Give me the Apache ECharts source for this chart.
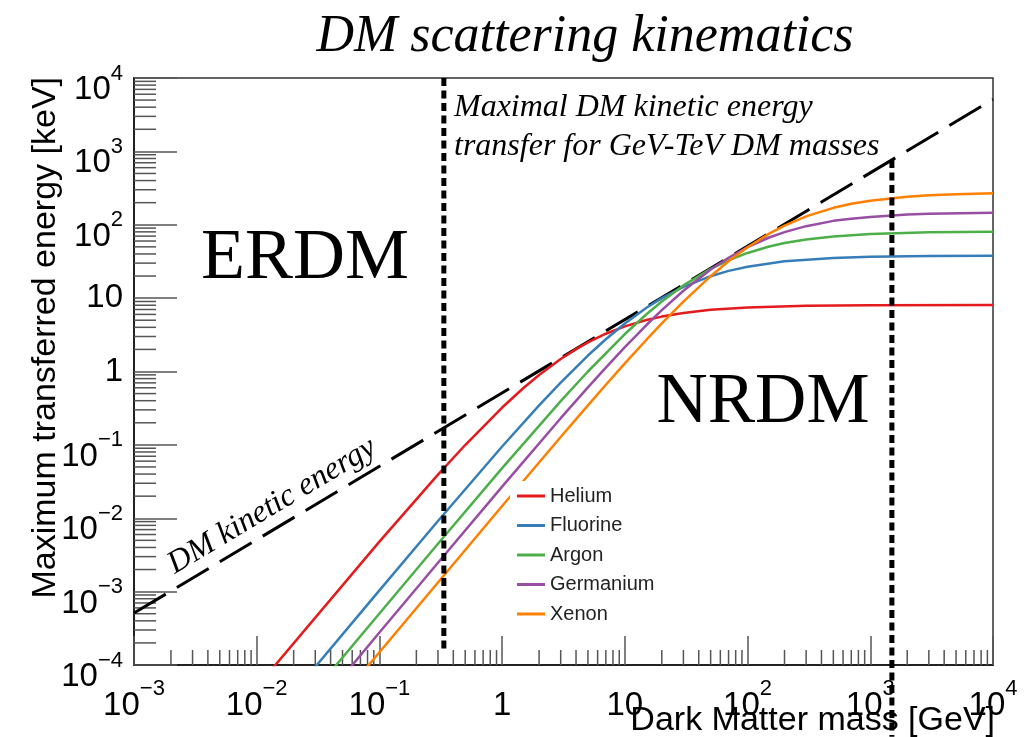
<!DOCTYPE html>
<html><head><meta charset="utf-8">
<script src="https://cdn.jsdelivr.net/npm/echarts@6/dist/echarts.min.js"></script>
<style>html,body{margin:0;padding:0;background:#fff}#c{width:1026px;height:737px}</style>
</head><body><div id="c"></div>
<script>
// ---------- data ----------
const X_MIN = 1e-3, X_MAX = 1e4;          // Dark Matter mass [GeV]
const Y_MIN = 1e-4, Y_MAX = 1e4;          // Maximum transferred energy [keV]
const X_DECADES = [-3, -2, -1, 0, 1, 2, 3];
const Y_DECADES = [-4, -3, -2, -1, 0, 1, 2, 3];
const MINOR_MULT = [2, 3, 4, 5, 6, 7, 8, 9];

const ELEMENTS = ['Helium', 'Fluorine', 'Argon', 'Germanium', 'Xenon'];
const COLORS = ['#e41a1c', '#377eb8', '#4daf4a', '#984ea3', '#ff7f00'];

const HE_MASS = [0.01, 0.1, 0.3, 0.5, 1, 1.5, 2, 3, 4, 5, 7, 10, 15, 20, 30, 50, 100, 300, 1000, 10000];
const HE_E    = [5.0e-5, 4.8e-3, 0.0393, 0.0996, 0.323, 0.600, 0.897, 1.48, 2.02, 2.49, 3.27, 4.12, 5.03, 5.60, 6.28, 6.92, 7.46, 7.86, 8.01, 8.06];

const F_MASS  = [0.02, 0.1, 0.3, 1, 2, 3, 5, 7, 10, 15, 20, 30, 50, 70, 100, 200, 500, 1000, 3000, 10000];
const F_E     = [4.2e-5, 1.04e-3, 9.18e-3, 0.095, 0.345, 0.707, 1.65, 2.75, 4.52, 7.40, 9.99, 14.2, 19.9, 23.5, 26.8, 31.7, 35.3, 36.6, 37.5, 37.9];

const AR_MASS = [0.03, 0.1, 0.3, 1, 3, 5, 10, 15, 20, 30, 50, 70, 100, 150, 200, 300, 500, 1000, 3000, 10000];
const AR_E    = [4.55e-5, 5.04e-4, 4.49e-3, 0.0482, 0.394, 1.00, 3.24, 6.03, 9.00, 14.9, 25.0, 32.8, 41.3, 50.5, 56.3, 63.1, 69.4, 74.9, 78.9, 80.4];

const GE_MASS = [0.05, 0.1, 0.3, 1, 3, 5, 7, 10, 15, 20, 30, 50, 70, 100, 150, 200, 300, 500, 700, 1000, 2000, 3000, 10000];
const GE_E    = [6.9e-5, 2.77e-4, 2.48e-3, 0.0270, 0.231, 0.608, 1.13, 2.15, 4.30, 6.85, 12.6, 24.5, 35.5, 49.5, 67.0, 79.4, 95.7, 113, 121, 128, 138, 141, 146];

const XE_MASS = [0.07, 0.1, 0.3, 1, 3, 5, 7, 10, 15, 20, 30, 50, 70, 100, 150, 200, 300, 500, 700, 1000, 2000, 3000, 5000, 10000];
const XE_E    = [7.3e-5, 1.49e-4, 1.33e-3, 0.0147, 0.128, 0.346, 0.659, 1.29, 2.71, 4.52, 8.98, 19.9, 31.8, 49.4, 75.7, 97.4, 130, 170, 193, 213, 241, 252, 261, 268];

const DMKE_MASS = [1e-3, 1e4];            // DM kinetic energy (dashed)
const DMKE_E    = [5.1e-4, 5100];

const CUT_LOW_MASS  = [0.335, 0.335];     // dotted verticals
const CUT_LOW_E     = [1e4, 1.5e-4];
const CUT_HIGH_MASS = [1500, 1500];
const CUT_HIGH_E    = [765, 1.05e-5];

// ---------- chart ----------
const zip = (a, b) => a.map((v, i) => [v, b[i]]);
const CURVES = [[HE_MASS, HE_E], [F_MASS, F_E], [AR_MASS, AR_E], [GE_MASS, GE_E], [XE_MASS, XE_E]];

const xMinor = [], yMinor = [];
X_DECADES.forEach(d => MINOR_MULT.forEach(m => xMinor.push([m * Math.pow(10, d), Y_MIN])));
Y_DECADES.forEach(d => MINOR_MULT.forEach(m => yMinor.push([X_MIN, m * Math.pow(10, d)])));

function tickRenderer(dir, len) {
  return function (params, api) {
    const p = api.coord([api.value(0), api.value(1)]);
    const shape = dir === 'x'
      ? { x1: p[0], y1: p[1], x2: p[0], y2: p[1] - len }
      : { x1: p[0], y1: p[1], x2: p[0] + len, y2: p[1] };
    return { type: 'line', shape: shape, style: { stroke: '#555', lineWidth: 1.5 } };
  };
}

function expOf(v) { return Math.round(Math.log10(v)); }
function supText(e) { return e < 0 ? '\u2212' + (-e) : String(e); }
function xLabel(v) {
  const e = expOf(v);
  if (e === 0) return '{b|1}';
  if (e === 1) return '{b|10}';
  return '{b|10}{s|' + supText(e) + '}';
}
function yPowLabel(v) {            // 10^n labels (n != 0, 1)
  const e = expOf(v);
  if (e === 0 || e === 1) return '';
  return '{b|10}{s|' + supText(e) + '}';
}
function yPlainLabel(v) {          // "1" and "10"
  const e = expOf(v);
  if (e === 0) return '1';
  if (e === 1) return '10';
  return '';
}
const RICH = {
  b: { fontFamily: 'Liberation Sans', fontSize: 33, lineHeight: 44, color: '#000', verticalAlign: 'bottom' },
  s: { fontFamily: 'Liberation Sans', fontSize: 22, lineHeight: 22, color: '#000', verticalAlign: 'top' }
};

const series = [];
series.push({ type: 'custom', name: 'xminor', data: xMinor, renderItem: tickRenderer('x', 15), silent: true, clip: false, encode: { x: 0, y: 1 } });
series.push({ type: 'custom', name: 'yminor', data: yMinor, renderItem: tickRenderer('y', 22), silent: true, clip: false, encode: { x: 0, y: 1 } });
series.push({
  name: 'DM kinetic energy', type: 'line', data: zip(DMKE_MASS, DMKE_E), symbol: 'none', silent: true,
  lineStyle: { color: '#000', width: 3, type: [37, 13] }
});
ELEMENTS.forEach((n, i) => {
  series.push({
    name: n, type: 'line', data: zip(CURVES[i][0], CURVES[i][1]), symbol: 'none',
    smooth: false, color: COLORS[i],
    itemStyle: { color: COLORS[i] }, lineStyle: { color: COLORS[i], width: 2.5 }
  });
});
series.push({ name: 'cutLow', type: 'line', data: zip(CUT_LOW_MASS, CUT_LOW_E), symbol: 'none', silent: true,
  lineStyle: { color: '#000', width: 5, type: [8, 4.5] } });
series.push({ name: 'cutHigh', type: 'line', data: zip(CUT_HIGH_MASS, CUT_HIGH_E), symbol: 'none', silent: true, clip: false,
  lineStyle: { color: '#000', width: 5, type: [8, 4.5] } });

const serifI = { fontFamily: 'Liberation Serif', fontStyle: 'italic', fill: '#000' };
const yBase = { type: 'log', logBase: 10, min: Y_MIN, max: Y_MAX, splitNumber: 8, position: 'left',
                minorTick: { show: false }, splitLine: { show: false } };

const option = {
  animation: false,
  backgroundColor: '#fff',
  title: {
    text: 'DM scattering kinematics', left: 585, top: 11, textAlign: 'center', padding: 0,
    textStyle: { fontFamily: 'Liberation Serif', fontStyle: 'italic', fontWeight: 'normal', fontSize: 52, color: '#000' }
  },
  grid: { left: 134, right: 33, top: 78, bottom: 72, containLabel: false, outerBoundsMode: 'none',
          show: true, borderColor: '#333', borderWidth: 1.5, backgroundColor: 'transparent' },
  legend: {
    data: ELEMENTS, orient: 'vertical', left: 510, top: 481, itemWidth: 28, itemHeight: 3, itemGap: 7.5, icon: 'rect',
    backgroundColor: '#fff', padding: [4, 6, 4, 7],
    textStyle: { fontFamily: 'Liberation Sans', fontSize: 20, color: '#222', lineHeight: 22 }
  },
  xAxis: {
    type: 'log', logBase: 10, min: X_MIN, max: X_MAX, splitNumber: 7,
    axisLine: { show: true, lineStyle: { color: '#222', width: 2 } },
    axisTick: { show: true, inside: true, length: 29, lineStyle: { color: '#555', width: 1.5 } },
    minorTick: { show: false }, splitLine: { show: false },
    axisLabel: { formatter: xLabel, margin: 13, rich: RICH, showMinLabel: true, showMaxLabel: true }
  },
  yAxis: [
    Object.assign({}, yBase, {
      axisLine: { show: true, lineStyle: { color: '#222', width: 2 } },
      axisTick: { show: true, inside: true, length: 43, lineStyle: { color: '#555', width: 1.5 } },
      axisLabel: { formatter: yPowLabel, margin: 11, rich: RICH, padding: [13, 0, 0, 0], showMinLabel: true, showMaxLabel: true }
    }),
    Object.assign({}, yBase, {
      axisLine: { show: false }, axisTick: { show: false },
      axisLabel: { formatter: yPlainLabel, margin: 11, fontFamily: 'Liberation Sans', fontSize: 33, color: '#000' }
    })
  ],
  graphic: [
    { type: 'text', x: 46, y: 77, rotation: Math.PI / 2, silent: true,
      style: { text: 'Maximum transferred energy [keV]', fontFamily: 'Liberation Sans', fontSize: 34, fill: '#000', align: 'right', verticalAlign: 'middle' } },
    { type: 'text', x: 995, y: 721, silent: true, z: 10,
      style: { text: 'Dark Matter mass [GeV]', fontFamily: 'Liberation Sans', fontSize: 34, fill: '#000', align: 'right', verticalAlign: 'middle' } },
    { type: 'text', x: 305, y: 259, silent: true,
      style: { text: 'ERDM', fontFamily: 'Liberation Serif', fontSize: 72, fill: '#000', align: 'center', verticalAlign: 'middle' } },
    { type: 'text', x: 763, y: 403, silent: true,
      style: { text: 'NRDM', fontFamily: 'Liberation Serif', fontSize: 71, fill: '#000', align: 'center', verticalAlign: 'middle' } },
    { type: 'text', x: 454, y: 108, silent: true,
      style: Object.assign({ text: 'Maximal DM kinetic energy', fontSize: 32, align: 'left', verticalAlign: 'middle' }, serifI) },
    { type: 'text', x: 454, y: 147, silent: true,
      style: Object.assign({ text: 'transfer for GeV-TeV DM masses', fontSize: 32, align: 'left', verticalAlign: 'middle' }, serifI) },
    { type: 'text', x: 272, y: 506, rotation: 30.9 * Math.PI / 180, silent: true,
      style: Object.assign({ text: 'DM kinetic energy', fontSize: 32, align: 'center', verticalAlign: 'middle' }, serifI) }
  ],
  series: series
};

const chart = echarts.init(document.getElementById('c'), null, { renderer: 'canvas' });
chart.setOption(option);
</script>
</body></html>
